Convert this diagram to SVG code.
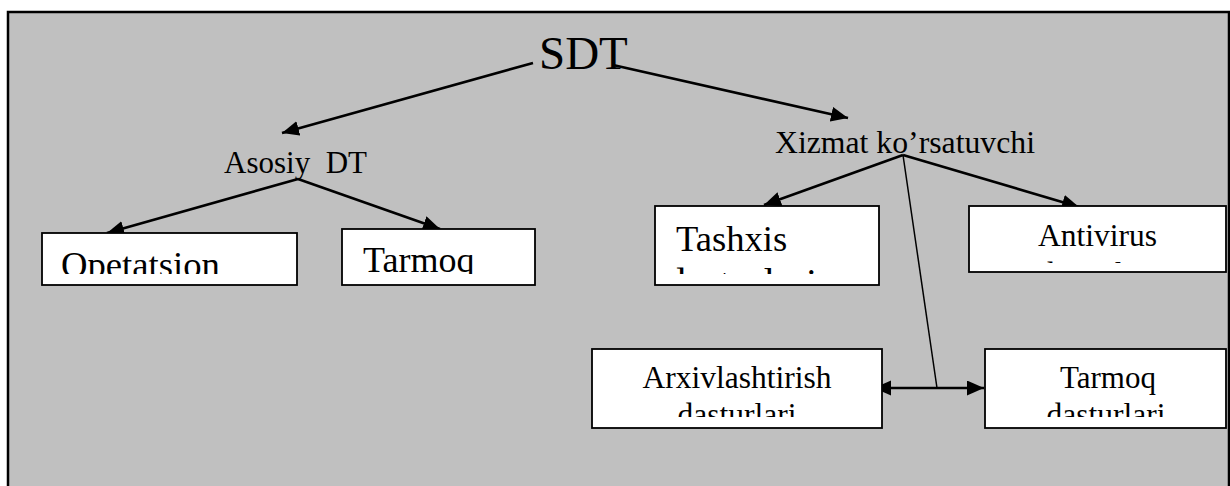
<svg xmlns="http://www.w3.org/2000/svg" width="1230" height="486" viewBox="0 0 1230 486">
<style>
  .t { font-family: "Liberation Serif", "Times New Roman", serif; fill: #000; white-space: pre; }
  .box { fill: #fff; stroke: #000; stroke-width: 1.8; }
  .arr { fill: none; stroke: #000; stroke-width: 2.6; }
  .thin { fill: none; stroke: #000; stroke-width: 1.5; }
</style>
<defs>
  <marker id="ah" markerUnits="userSpaceOnUse" markerWidth="18" markerHeight="16" refX="17" refY="7.5" orient="auto">
    <path d="M0,0 L17,7.5 L0,15 z" fill="#000"/>
  </marker>
  <marker id="ahs" markerUnits="userSpaceOnUse" markerWidth="18" markerHeight="16" refX="17" refY="7.5" orient="auto-start-reverse">
    <path d="M0,0 L17,7.5 L0,15 z" fill="#000"/>
  </marker>
  <clipPath id="c-op"><rect x="42" y="233" width="255" height="41"/></clipPath>
  <clipPath id="c-tm"><rect x="342" y="229" width="193" height="45"/></clipPath>
  <clipPath id="c-ts"><rect x="655" y="206" width="224" height="68"/></clipPath>
  <clipPath id="c-av"><rect x="969" y="206" width="257" height="57"/></clipPath>
  <clipPath id="c-ar"><rect x="592" y="349" width="290" height="68"/></clipPath>
  <clipPath id="c-td"><rect x="985" y="349" width="241" height="68"/></clipPath>
</defs>
<rect x="8" y="12" width="1221" height="480" fill="#c0c0c0" stroke="#000" stroke-width="2.5"/>

<g id="connectors">
  <line class="arr" x1="533" y1="63" x2="282" y2="133" marker-end="url(#ah)"/>
  <line class="arr" x1="613" y1="65" x2="848" y2="118" marker-end="url(#ah)"/>
  <line class="arr" x1="298" y1="179" x2="107" y2="233" marker-end="url(#ah)"/>
  <line class="arr" x1="298" y1="179" x2="440" y2="229" marker-end="url(#ah)"/>
  <line class="arr" x1="903" y1="155" x2="764" y2="205" marker-end="url(#ah)"/>
  <line class="arr" x1="903" y1="155" x2="1079" y2="207" marker-end="url(#ah)"/>
  <line class="thin" x1="903" y1="155" x2="937" y2="388"/>
  <line class="arr" x1="874" y1="388" x2="984" y2="388" marker-start="url(#ahs)" marker-end="url(#ah)"/>
</g>

<g id="sdt">
  <text class="t" x="539" y="69" font-size="47">SDT</text>
</g>
<g id="asosiy">
  <text class="t" x="224" y="173" font-size="31">Asosiy  DT</text>
</g>
<g id="xizmat">
  <text class="t" x="775" y="153" font-size="31.5" textLength="260" lengthAdjust="spacingAndGlyphs">Xizmat ko’rsatuvchi</text>
</g>
<g id="opetatsion">
  <rect class="box" x="42" y="233" width="255" height="52"/>
  <g clip-path="url(#c-op)"><text class="t" x="61" y="277" font-size="36.7">Opetatsion</text></g>
</g>
<g id="tarmoq1">
  <rect class="box" x="342" y="229" width="193" height="56"/>
  <g clip-path="url(#c-tm)"><text class="t" x="363" y="272" font-size="36">Tarmoq</text></g>
</g>
<g id="tashxis">
  <rect class="box" x="655" y="206" width="224" height="79"/>
  <g clip-path="url(#c-ts)">
    <text class="t" x="676" y="251" font-size="36.6">Tashxis</text>
    <text class="t" x="666" y="296" font-size="40">dasturlari</text>
  </g>
</g>
<g id="antivirus">
  <rect class="box" x="969" y="206" width="257" height="66"/>
  <g clip-path="url(#c-av)">
    <text class="t" x="1097.5" y="246" font-size="31.5" text-anchor="middle">Antivirus</text>
    <text class="t" x="1097.5" y="284" font-size="31" text-anchor="middle">dasturlari</text>
  </g>
</g>
<g id="arxiv">
  <rect class="box" x="592" y="349" width="290" height="79"/>
  <g clip-path="url(#c-ar)">
    <text class="t" x="737" y="388" font-size="31.5" text-anchor="middle">Arxivlashtirish</text>
    <text class="t" x="737" y="425" font-size="31.5" text-anchor="middle">dasturlari</text>
  </g>
</g>
<g id="tarmoq2">
  <rect class="box" x="985" y="349" width="241" height="79"/>
  <g clip-path="url(#c-td)">
    <text class="t" x="1108" y="388" font-size="31" text-anchor="middle">Tarmoq</text>
    <text class="t" x="1106" y="425" font-size="31.5" text-anchor="middle">dasturlari</text>
  </g>
</g>
</svg>
